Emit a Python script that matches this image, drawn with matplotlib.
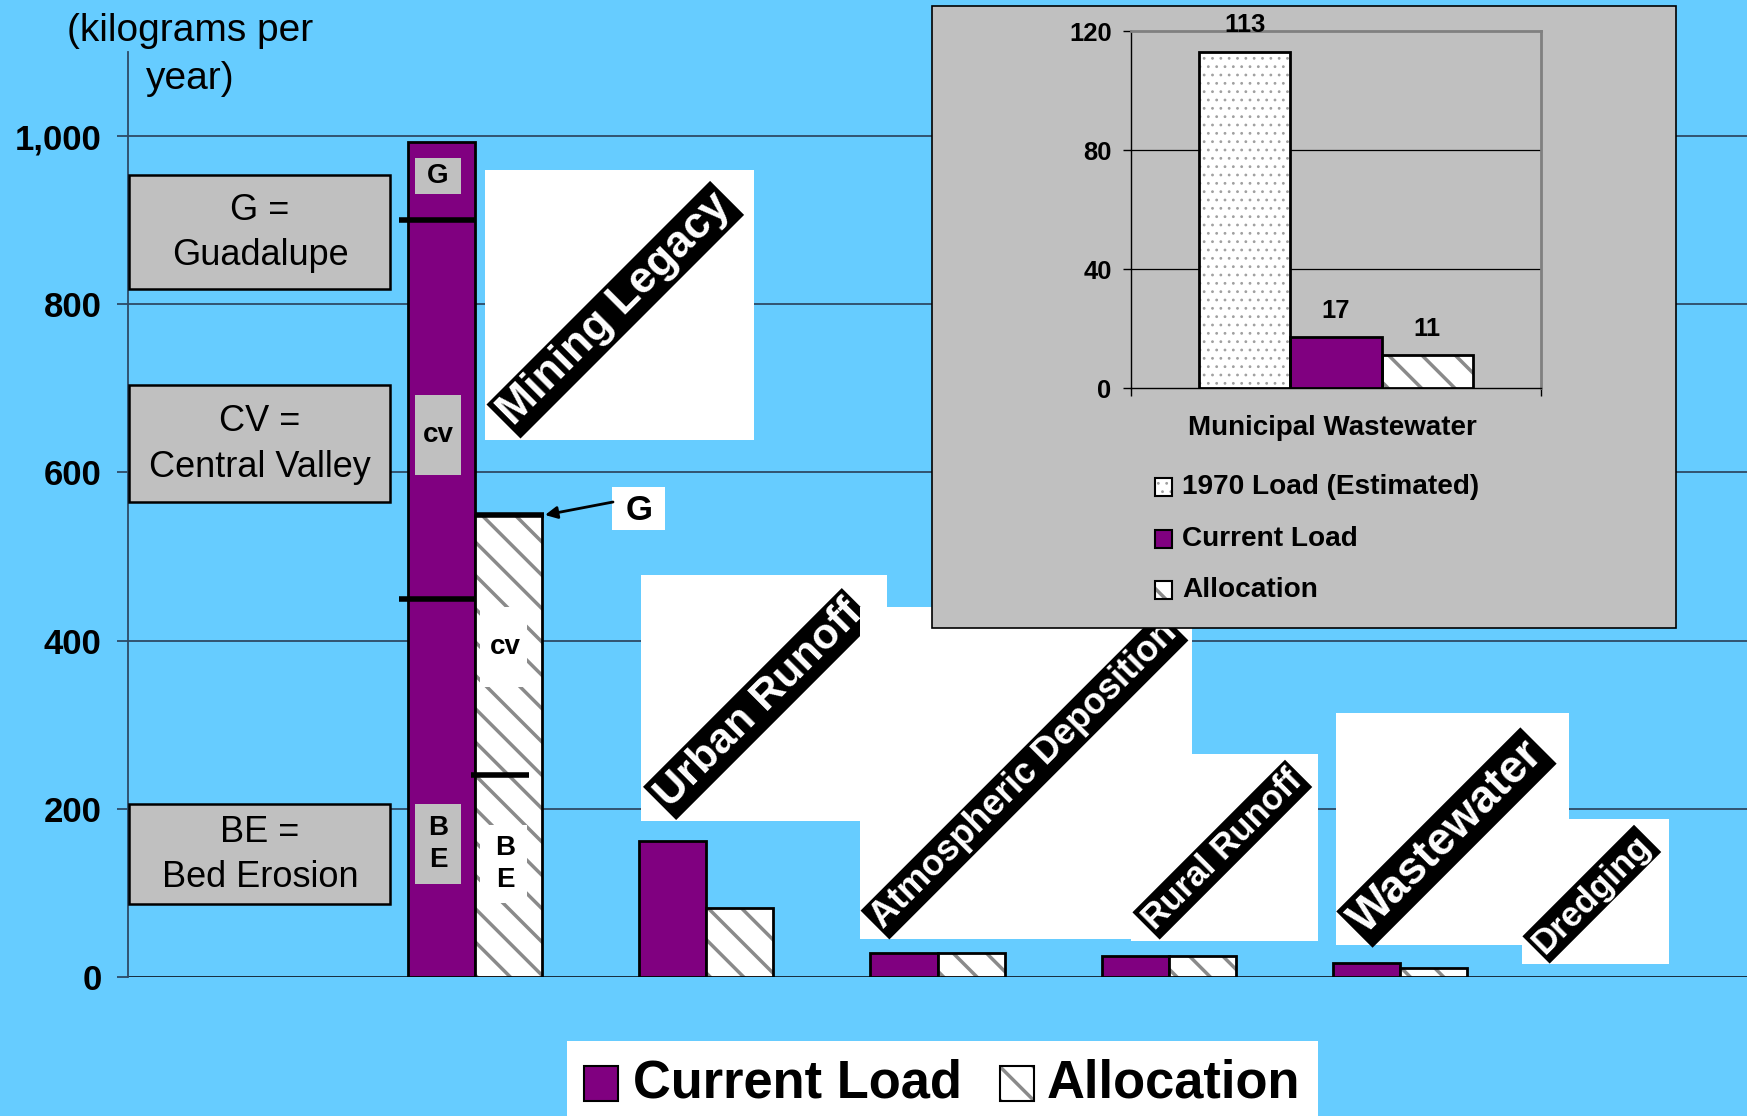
import matplotlib.pyplot as plt
import numpy as np
from matplotlib import font_manager
from matplotlib.patches import Rectangle

# Datos del gráfico principal (kg por año)
categories = ['Mining Legacy', 'Urban Runoff', 'Atmospheric Deposition',
              'Rural Runoff', 'Wastewater', 'Dredging']
current_load = [993, 162, 28, 25, 17, 0]
allocation = [550, 82, 28, 25, 11, 0]
y_ticks = [0, 200, 400, 600, 800, 1000]

# Divisiones de Mining Legacy (G / CV / BE)
current_splits = [900, 450]
allocation_splits = [240]
key_labels = ['G =\nGuadalupe', 'CV =\nCentral Valley', 'BE =\nBed Erosion']

# Datos del recuadro (Municipal Wastewater)
inset_series = ['1970 Load (Estimated)', 'Current Load', 'Allocation']
inset_values = [113, 17, 11]
inset_ticks = [0, 40, 80, 120]

BG = '#66CCFF'
PURPLE = '#800080'
GRAY = '#C0C0C0'
GRID = '#2d4a66'
HATCH = '#8a8a8a'

plt.rcParams['font.family'] = ['Liberation Sans', 'DejaVu Sans']
plt.rcParams['hatch.linewidth'] = 2.5

names = {f.name for f in font_manager.fontManager.ttflist}
if 'Liberation Sans Narrow' in names:
    NARROW, nscale = 'Liberation Sans Narrow', 1.0
else:
    NARROW, nscale = 'Liberation Sans', 0.84


def thin_dots(patches):
    # puntos finos para la barra de 1970
    for p in patches:
        if hasattr(p, 'set_hatch_linewidth'):
            p.set_hatch_linewidth(0.8)


W, H = 1747, 1116
fig = plt.figure(figsize=(W / 100, H / 100), dpi=100)
fig.patch.set_facecolor(BG)

# Ejes principales
ax = fig.add_axes([128 / W, 1 - 977 / H, 1 - 128 / W, (977 - 52) / H])
ax.set_facecolor('none')
ax.set_xlim(-1.5, 5.5)
ax.set_ylim(0, 1100)

x = np.arange(len(categories))
bw = 0.29
cur = np.array(current_load)
alo = np.array(allocation)
m = cur > 0
ax.bar(x[m] - bw / 2, cur[m], bw, color=PURPLE, edgecolor='black', lw=2, zorder=3)
m = alo > 0
ax.bar(x[m] + bw / 2, alo[m], bw, color='white', edgecolor=HATCH, hatch='\\', lw=0, zorder=3)
ax.bar(x[m] + bw / 2, alo[m], bw, fill=False, edgecolor='black', lw=2, zorder=4)

# Líneas que separan G / CV / BE
for v in current_splits:
    ax.plot([-bw - 0.04, 0], [v, v], color='black', lw=4, solid_capstyle='butt', zorder=5)
for v in allocation_splits:
    ax.plot([-0.015, bw * 0.8], [v, v], color='black', lw=4, solid_capstyle='butt', zorder=5)
ax.plot([0, bw + 0.01], [allocation[0]] * 2, color='black', lw=4, solid_capstyle='butt', zorder=5)

for v in y_ticks:
    ax.axhline(v, color=GRID if v else '#10202e', lw=1.3, zorder=1)
ax.set_yticks(y_ticks)
ax.set_yticklabels([f'{v:,}' for v in y_ticks], fontsize=25, fontweight='bold')
ax.tick_params(axis='y', length=8, width=1.3, color=GRID, pad=11)
ax.set_xticks([])
for s in ['top', 'right', 'bottom']:
    ax.spines[s].set_visible(False)
ax.spines['left'].set_color(GRID)
ax.spines['left'].set_linewidth(1.3)

# Capa superpuesta en píxeles para etiquetas y recuadros
ov = fig.add_axes([0, 0, 1, 1])
ov.set_xlim(0, W)
ov.set_ylim(H, 0)
ov.axis('off')
ov.set_zorder(2)

ov.text(190, 55, '(kilograms per\nyear)', ha='center', va='center', fontsize=28, linespacing=1.4)

# Recuadros de la leyenda izquierda
for lab, (top, bot) in zip(key_labels, [(175, 289), (385, 502), (804, 904)]):
    ov.add_patch(Rectangle((129, top), 261, bot - top, facecolor=GRAY, edgecolor='black', lw=1.8, zorder=3))
    ov.text(260, (top + bot) / 2 + 1, lab, ha='center', va='center', fontsize=26, linespacing=1.4, zorder=4)

# Etiquetas dentro de la barra de Mining Legacy
for lab, (top, bot) in zip(['G', 'cv', 'B\nE'], [(158, 194), (395, 475), (804, 884)]):
    ov.add_patch(Rectangle((415, top), 46, bot - top, facecolor=GRAY, lw=0, zorder=3))
    ov.text(438, (top + bot) / 2, lab, ha='center', va='center', fontsize=20,
            fontweight='bold', linespacing=1.3, zorder=4)
for lab, (top, bot) in zip(['cv', 'B\nE'], [(607, 687), (825, 903)]):
    ov.add_patch(Rectangle((480, top), 47, bot - top, facecolor='white', lw=0, zorder=3))
    ov.text(505, (top + bot) / 2, lab, ha='center', va='center', fontsize=20,
            fontweight='bold', linespacing=1.3, zorder=4)

ov.add_patch(Rectangle((612, 487), 53, 43, facecolor='white', lw=0, zorder=3))
ov.text(639, 511, 'G', ha='center', va='center', fontsize=25, fontweight='bold', zorder=4)
ov.annotate('', xy=(545, 515), xytext=(613, 502), zorder=4,
            arrowprops=dict(arrowstyle='-|>', color='black', lw=2, mutation_scale=18,
                            shrinkA=0, shrinkB=0))

# Etiquetas de categoría giradas (recuadro blanco + texto blanco sobre negro)
label_layout = [
    ((485, 170, 754, 440), (503, 422), 32),
    ((641, 575, 887, 821), (659, 804), 31),
    ((860, 607, 1192, 939), (874, 926), 26),
    ((1131, 754, 1318, 941), (1145, 927), 25),
    ((1336, 713, 1569, 945), (1354, 930), 33),
    ((1522, 819, 1669, 964), (1535, 951), 25),
]
for i, (cat, (box, start, fs)) in enumerate(zip(categories, label_layout)):
    x0, y0, x1, y1 = box
    z = 5 + i * 0.1
    r = Rectangle((x0, y0), x1 - x0, y1 - y0, facecolor='white', lw=0, zorder=z)
    ov.add_patch(r)
    t = ov.text(start[0] + 3, start[1] - 3, cat, rotation=45, rotation_mode='anchor',
                ha='left', va='center', color='white', fontsize=fs, fontweight='bold',
                zorder=z + 0.05,
                bbox=dict(boxstyle='square,pad=0.08', facecolor='black', edgecolor='none'))
    t.set_clip_path(r)

# Recuadro gris del gráfico insertado
ov.add_patch(Rectangle((932, 6), 744, 622, facecolor=GRAY, edgecolor='black', lw=1.2, zorder=10))

inset_faces = ['white', PURPLE, 'white']
inset_hatches = ['..', None, '\\']
for i, lab in enumerate(inset_series):
    yc = 487 + i * 51.5
    if inset_hatches[i]:
        p = Rectangle((1155, yc - 9), 17, 18, facecolor='white',
                      edgecolor='#a0a0a0' if i == 0 else HATCH,
                      hatch=inset_hatches[i], lw=0, zorder=11)
        ov.add_patch(p)
        if i == 0:
            thin_dots([p])
    else:
        ov.add_patch(Rectangle((1155, yc - 9), 17, 18, facecolor=inset_faces[i], lw=0, zorder=11))
    ov.add_patch(Rectangle((1155, yc - 9), 17, 18, fill=False, edgecolor='black', lw=1.5, zorder=12))
    ov.text(1182, yc, lab, ha='left', va='center', fontsize=24 * nscale, fontweight='bold',
            family=NARROW, zorder=12)

# Leyenda inferior
ov.add_patch(Rectangle((567, 1041), 751, 80, facecolor='white', lw=0, zorder=10))
ov.add_patch(Rectangle((584, 1066), 34, 35, facecolor=PURPLE, edgecolor='black', lw=1.5, zorder=11))
ov.text(633, 1083, 'Current Load', ha='left', va='center', fontsize=45 * nscale,
        fontweight='bold', family=NARROW, zorder=11)
ov.add_patch(Rectangle((1000, 1066), 34, 35, facecolor='white', edgecolor=HATCH, hatch='\\',
                       lw=0, zorder=11))
ov.add_patch(Rectangle((1000, 1066), 34, 35, fill=False, edgecolor='black', lw=1.5, zorder=12))
ov.text(1047, 1083, 'Allocation', ha='left', va='center', fontsize=45 * nscale,
        fontweight='bold', family=NARROW, zorder=11)

# Gráfico insertado: Municipal Wastewater
ins = fig.add_axes([1131 / W, 1 - 388 / H, 410 / W, 357 / H])
ins.set_zorder(3)
ins.set_facecolor(GRAY)
ins.set_xlim(-0.5, 0.5)
ins.set_ylim(0, 120)
ib = 0.222
pos = np.array([-1, 0, 1]) * ib
for i, v in enumerate(inset_values):
    if inset_hatches[i]:
        bars = ins.bar(pos[i], v, ib, color='white', edgecolor='#a0a0a0' if i == 0 else HATCH,
                       hatch=inset_hatches[i], lw=0, zorder=3)
        if i == 0:
            thin_dots(bars)
    else:
        ins.bar(pos[i], v, ib, color=inset_faces[i], lw=0, zorder=3)
    ins.bar(pos[i], v, ib, fill=False, edgecolor='black', lw=2, zorder=4)
    ins.text(pos[i], v + 9, str(v), ha='center', va='center', fontsize=22 * nscale,
             fontweight='bold', family=NARROW)

for v in inset_ticks[1:-1]:
    ins.axhline(v, color='black', lw=0.9, zorder=1)
ins.set_yticks(inset_ticks)
ins.set_yticklabels([str(v) for v in inset_ticks], fontsize=22 * nscale, fontweight='bold',
                    family=NARROW)
ins.set_xticks([-0.5, 0.5])
ins.set_xticklabels(['', ''])
ins.tick_params(length=6, width=1, direction='out', pad=8)
for s in ['left', 'bottom']:
    ins.spines[s].set_color('black')
    ins.spines[s].set_linewidth(1)
for s in ['top', 'right']:
    ins.spines[s].set_color('#808080')
    ins.spines[s].set_linewidth(2)
ins.text(0.49, -0.112, 'Municipal Wastewater', transform=ins.transAxes, ha='center',
         va='center', fontsize=20, fontweight='bold')

fig.savefig('out.png', dpi=100, facecolor=BG)
